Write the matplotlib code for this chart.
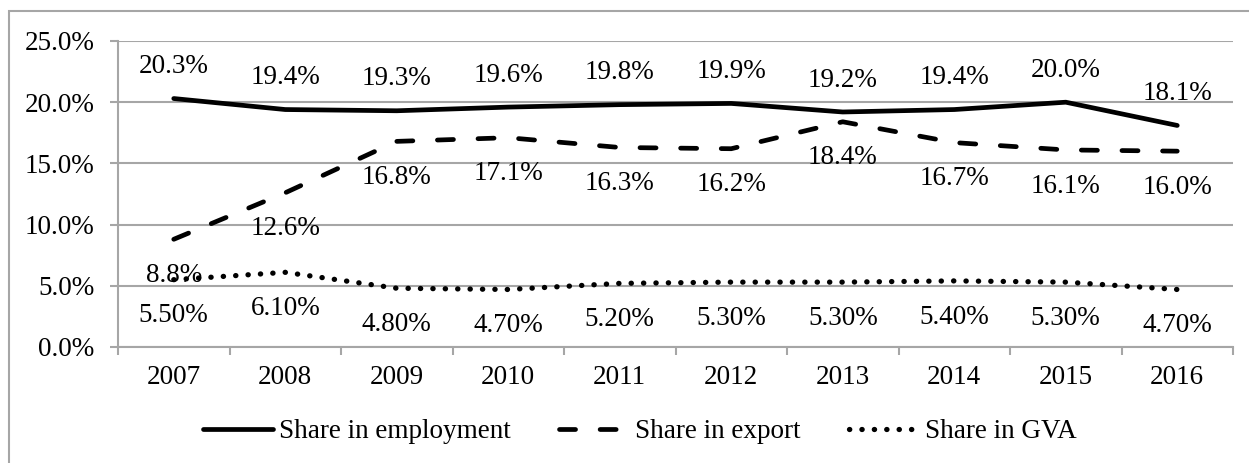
import matplotlib
matplotlib.use('Agg')
import matplotlib.pyplot as plt
from matplotlib.patches import Rectangle

years = ['2007', '2008', '2009', '2010', '2011', '2012', '2013', '2014', '2015', '2016']
employment = [20.3, 19.4, 19.3, 19.6, 19.8, 19.9, 19.2, 19.4, 20.0, 18.1]
export = [8.8, 12.6, 16.8, 17.1, 16.3, 16.2, 18.4, 16.7, 16.1, 16.0]
gva = [5.5, 6.1, 4.8, 4.7, 5.2, 5.3, 5.3, 5.4, 5.3, 4.7]

plt.rcParams['font.family'] = ['Liberation Serif', 'DejaVu Serif']
fs = 19.5
grid_col = '#a6a6a6'

fig = plt.figure(figsize=(12.49, 4.63), dpi=100)
ax = fig.add_axes([118 / 1249, 1 - 347 / 463, (1233 - 118) / 1249, (347 - 41) / 463])

x = list(range(len(years)))
lw = 3.4
ax.plot(x, employment, color='black', lw=lw, solid_capstyle='round',
        solid_joinstyle='round', label='Share in employment')
ax.plot(x, export, color='black', lw=lw, linestyle=(0, (3.4, 5.2)),
        dash_capstyle='round', label='Share in export')
ax.plot(x, gva, color='black', lw=3.8, linestyle=(0, (0.05, 2.3)),
        dash_capstyle='round', label='Share in GVA')

# data labels: employment above, the other two below
for i in x:
    ax.annotate('{:.1f}%'.format(employment[i]), (i, employment[i]), xytext=(0, 23),
                textcoords='offset points', ha='center', va='center', fontsize=fs)
    ax.annotate('{:.1f}%'.format(export[i]), (i, export[i]), xytext=(0, -26),
                textcoords='offset points', ha='center', va='center', fontsize=fs)
    ax.annotate('{:.2f}%'.format(gva[i]), (i, gva[i]), xytext=(0, -26),
                textcoords='offset points', ha='center', va='center', fontsize=fs)

ax.set_xlim(-0.5, len(years) - 0.5)
ax.set_ylim(0, 25)
ax.set_yticks([0, 5, 10, 15, 20, 25])
ax.set_yticklabels(['{:.1f}%'.format(v) for v in [0, 5, 10, 15, 20, 25]], fontsize=fs)
ax.set_xticks(x)
ax.set_xticklabels(years, fontsize=fs)
ax.set_xticks([i - 0.5 for i in range(len(years) + 1)], minor=True)
ax.tick_params(axis='x', which='major', length=0, pad=13)
ax.tick_params(axis='x', which='minor', length=6, width=1.5, color=grid_col, direction='out')
ax.tick_params(axis='y', length=6, width=1.5, color=grid_col, pad=11)

ax.grid(axis='y', color=grid_col, lw=1.5)
ax.set_axisbelow(True)
for s in ['top', 'right']:
    ax.spines[s].set_visible(False)
for s in ['left', 'bottom']:
    ax.spines[s].set_color(grid_col)
    ax.spines[s].set_linewidth(1.5)

ax.legend(loc='center', bbox_to_anchor=((640 - 118) / 1115, -(432 - 347) / 306),
          ncol=3, frameon=False, fontsize=fs, handlelength=2.6,
          handletextpad=0.2, columnspacing=1.8)

# outer frame (right and bottom edges fall outside the image)
fig.patches.append(Rectangle((9 / 1249, -0.05), 1.05, 1.05 - 11 / 463,
                             transform=fig.transFigure, fill=False, edgecolor=grid_col, lw=1.5))

fig.savefig('out.png', dpi=100)
